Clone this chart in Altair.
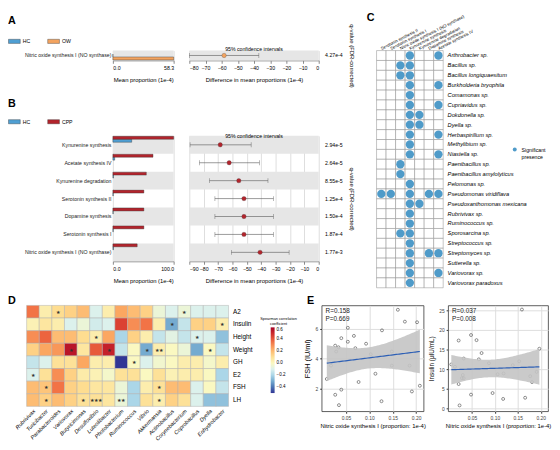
import altair as alt
import pandas as pd
import numpy as np

FONT = "Liberation Sans"
C_HC = "#4f9fd3"
C_OW = "#f3a35f"
C_CPP = "#b3242c"
C_DOT = "#4f9bc9"
BAND = "#e6e6e6"

# ---------------- Panel A data ----------------
a_pathways = ["Nitric oxide synthesis I (NO synthase)"]
a_hc = [0.0]
a_ow = [58.3]
a_diff = [-58.5]
a_low = [-80.0]
a_high = [-37.0]
a_q = ["4.27e-4"]

# ---------------- Panel B data ----------------
b_pathways = ["Kynurenine synthesis", "Acetate synthesis IV", "Kynurenine degradation",
              "Serotonin synthesis II", "Dopamine synthesis", "Serotonin synthesis I",
              "Nitric oxide synthesis I (NO synthase)"]
b_hc = [31.0, 3.0, 1.0, 0.6, 0.6, 0.6, 1.0]
b_cpp = [100.0, 66.0, 55.0, 51.0, 51.0, 51.0, 40.0]
b_diff = [-68.5, -62.3, -55.6, -52.0, -52.0, -52.0, -40.8]
b_low = [-89.5, -83.0, -76.0, -72.2, -72.2, -72.2, -60.8]
b_high = [-47.0, -41.3, -35.3, -31.5, -31.5, -31.5, -20.6]
b_q = ["2.94e-5", "2.64e-5", "8.55e-5", "1.25e-4", "1.50e-4", "1.87e-4", "1.77e-3"]

# ---------------- Panel C data ----------------
c_columns = ["Serotonin synthesis II", "Serotonin synthesis I",
             "Nitric oxide synthesis I (NO synthase)", "Kynurenine synthesis",
             "Kynurenine degradation", "Dopamine synthesis", "Acetate synthesis IV"]
c_species = ["Arthrobacter sp.", "Bacillus sp.", "Bacillus longiquaesitum",
             "Burkholderia bryophila", "Comamonas sp.", "Cupriavidus sp.", "Dokdonella sp.",
             "Dyella sp.", "Herbaspirillum sp.", "Methylibium sp.", "Niastella sp.",
             "Paenibacillus sp.", "Paenibacillus amylolyticus", "Pelomonas sp.",
             "Pseudomonas viridiflava", "Pseudoxanthomonas mexicana", "Rubrivivax sp.",
             "Ruminococcus sp.", "Sporosarcina sp.", "Streptococcus sp.", "Streptomyces sp.",
             "Sutterella sp.", "Variovorax sp.", "Variovorax paradoxus"]
# 1-based column numbers with significant presence, per species
c_presence = [[4, 7], [3, 4], [3, 4], [4, 7], [4], [4, 7], [4, 5], [4, 5], [4, 7], [4],
              [4, 7], [3], [3], [4], [1, 2, 4, 6, 7], [4, 5], [4], [4], [3, 4], [4],
              [4, 6, 7], [4], [4, 7], [4]]

# ---------------- Panel D data ----------------
d_genera = ["Rubrivivax", "Turicibacter", "Parabacteroides", "Variovorax", "Butyricimonas",
            "Desulfovibrio", "Luteolibacter", "Photobacterium", "Ruminococcus", "Vibrio",
            "Akkermansia", "Actinobacillus", "Corynebacterium", "Coprobacillus", "Dyella",
            "Enhydrobacter"]
d_traits = ["A2", "Insulin", "Height", "Weight", "GH", "E2", "FSH", "LH"]
d_rho = [
    [0.35, 0.05, 0.12, 0.15, 0.20, -0.10, 0.05, 0.25, 0.20, 0.15, -0.05, -0.10, -0.05, -0.10, -0.10, -0.10],
    [0.03, 0.08, 0.05, -0.10, -0.05, -0.12, -0.10, 0.45, 0.30, 0.35, 0.05, -0.30, -0.15, 0.15, 0.15, 0.05],
    [0.30, 0.38, 0.20, 0.20, 0.12, 0.05, 0.25, -0.20, 0.15, 0.05, -0.15, -0.08, -0.15, -0.10, -0.10, -0.25],
    [0.15, 0.25, 0.28, 0.55, 0.08, 0.40, 0.52, -0.15, 0.00, -0.30, 0.05, 0.00, -0.05, -0.30, 0.00, -0.15],
    [-0.15, -0.10, 0.10, 0.10, 0.25, 0.05, 0.05, -0.50, 0.00, -0.10, -0.03, 0.00, 0.05, 0.05, -0.02, 0.05],
    [-0.10, 0.10, 0.30, 0.15, 0.06, 0.03, -0.02, 0.10, 0.10, 0.00, 0.10, 0.03, 0.05, 0.05, 0.00, -0.20],
    [0.20, 0.18, 0.35, 0.15, 0.12, 0.08, 0.08, -0.05, -0.20, 0.05, 0.10, 0.20, 0.20, -0.10, 0.00, -0.15],
    [0.20, 0.15, 0.20, 0.15, 0.10, 0.10, 0.08, -0.05, -0.20, 0.10, 0.05, 0.15, 0.10, -0.10, -0.25, -0.25],
]
d_stars = [
    ["", "", "*", "", "", "", "", "", "", "", "", "", "*", "", "", ""],
    ["", "", "", "", "", "", "", "", "", "", "", "*", "", "", "", "*"],
    ["", "", "", "", "", "*", "", "", "", "", "", "", "", "*", "", ""],
    ["", "", "", "*", "", "", "*", "", "", "*", "**", "", "", "", "*", ""],
    ["", "", "", "", "", "", "", "", "*", "", "", "", "", "", "", ""],
    ["*", "", "", "", "", "", "", "", "", "", "", "", "", "", "", ""],
    ["", "*", "", "", "", "", "", "", "", "", "*", "", "", "", "", ""],
    ["", "*", "", "", "*", "***", "", "**", "", "", "*", "", "", "", "", ""],
]

# ---------------- Panel E data ----------------
e_fsh_x = [0.009, 0.018, 0.027, 0.027, 0.029, 0.034, 0.035, 0.040, 0.040, 0.054, 0.054,
           0.067, 0.070, 0.077, 0.093, 0.103, 0.113, 0.127, 0.126, 0.148, 0.148, 0.161,
           0.176, 0.186, 0.191, 0.202, 0.208]
e_fsh_y = [2.65, 3.54, 1.60, 4.87, 4.48, 4.76, 0.91, 5.37, 1.94, 6.06, 5.13, 5.52, 4.70,
           2.45, 5.00, 4.30, 3.00, 5.89, 1.17, 4.48, 3.54, 7.26, 6.47, 3.54, 1.82, 6.43, 2.20]
e_ins_x = [0.005, 0.013, 0.021, 0.021, 0.023, 0.030, 0.028, 0.032, 0.032, 0.048, 0.048,
           0.060, 0.065, 0.071, 0.087, 0.095, 0.106, 0.119, 0.118, 0.139, 0.153, 0.159,
           0.166, 0.177, 0.181, 0.191, 0.197]
e_ins_y = [11.2, 10.6, 17.3, 6.2, 0.75, 8.5, 7.7, 7.7, 12.7, 18.7, 3.5, 17.4, 12.5, 14.1,
           11.5, 3.9, 8.7, 8.9, 2.4, 11.0, 12.0, 25.2, 2.7, 8.2, 6.7, 9.3, 15.2]

# ---------------- helpers ----------------
W_BAR = 62
W_DIFF = 132
FS = 5.3
LEFT_GAP = 72   # empty layout slot left of panels A/B so that D lines up with the page edge


def spacer(width, height):
    return alt.Chart(pd.DataFrame({"v": [0]})).mark_point(opacity=0).encode(
        x=alt.X("v:Q", axis=None), y=alt.Y("v:Q", axis=None)).properties(
        width=width, height=height)


def bars_chart(paths, hc, other, other_name, other_color, vmax, height, pad_outer, letter,
               title_off, legend_y, field):
    rows = []
    for p, a, b in zip(paths, hc, other):
        rows.append({"path": p, field: "HC", "value": a})
        rows.append({"path": p, field: other_name, "value": b})
    df = pd.DataFrame(rows)
    band_df = pd.DataFrame({"path": paths[::2]})
    ysc = alt.Y("path:N", sort=paths, scale=alt.Scale(paddingInner=0, paddingOuter=0),
                axis=alt.Axis(title=None, ticks=False, domain=False, labelFontSize=FS,
                              labelPadding=2, labelLimit=300, labelColor="#222"))
    band = alt.Chart(band_df).mark_rect(color=BAND).encode(
        y=ysc, x=alt.value(0), x2=alt.value(W_BAR))
    bars = alt.Chart(df).mark_bar(stroke="#333", strokeWidth=0.4).encode(
        y=ysc,
        yOffset=alt.YOffset(f"{field}:N", sort=["HC", other_name],
                            scale=alt.Scale(paddingOuter=pad_outer, paddingInner=0)),
        x=alt.X("value:Q", scale=alt.Scale(domain=[0, vmax], nice=False),
                axis=alt.Axis(values=[0, vmax], format=".1f", title="Mean proportion (1e-4)",
                              labelFontSize=FS, titleFontSize=6, titleFontWeight="normal",
                              domainColor="#888", tickColor="#888", tickSize=3,
                              labelPadding=2, titlePadding=6, labelOverlap=False)),
        color=alt.Color(f"{field}:N", scale=alt.Scale(domain=["HC", other_name],
                                                      range=[C_HC, other_color]),
                        legend=alt.Legend(orient="none", legendX=-107, legendY=legend_y,
                                          direction="horizontal", title=None,
                                          symbolType="M-1,-0.35H1V0.35H-1Z", symbolSize=144,
                                          symbolStrokeColor="#333", symbolStrokeWidth=0.4,
                                          labelFontSize=FS, columnPadding=16, labelOffset=2)),
    )
    return alt.layer(band, bars).properties(
        width=W_BAR, height=height,
        title=alt.TitleParams(letter, anchor="start", frame="group", dx=-107, offset=title_off,
                              fontSize=11, fontWeight="bold"))


def diff_chart(q, diff, low, high, color, dmin, height, title_off):
    df = pd.DataFrame({"q": q, "diff": diff, "low": low, "high": high})
    band_df = df.iloc[::2]
    ysc = alt.Y("q:N", sort=q, scale=alt.Scale(paddingInner=0, paddingOuter=0),
                axis=alt.Axis(orient="right", title="q-value (FDR-corrected)", ticks=False,
                              domain=False, labelFontSize=FS, titleFontSize=6,
                              titleFontWeight="normal", labelPadding=6, titlePadding=6))
    xscale = alt.Scale(domain=[dmin, 0], nice=False)
    xaxis = alt.Axis(values=list(range(dmin, 1, 10)),
                     title="Difference in mean proportions  (1e-4)",
                     labelFontSize=FS, titleFontSize=6, titleFontWeight="normal",
                     domainColor="#888", tickColor="#888", tickSize=3,
                     labelPadding=2, titlePadding=6, labelOverlap=False)
    band = alt.Chart(band_df).mark_rect(color=BAND).encode(
        y=ysc, x=alt.value(0), x2=alt.value(W_DIFF))
    rule = alt.Chart(df).mark_rule(color="#555", strokeWidth=0.6).encode(
        y=ysc, x=alt.X("low:Q", scale=xscale, axis=xaxis), x2="high:Q")
    cap_lo = alt.Chart(df).mark_tick(color="#555", thickness=0.6, size=5).encode(
        y=ysc, x=alt.X("low:Q", scale=xscale, axis=xaxis))
    cap_hi = alt.Chart(df).mark_tick(color="#555", thickness=0.6, size=5).encode(
        y=ysc, x=alt.X("high:Q", scale=xscale, axis=xaxis))
    pt = alt.Chart(df).mark_circle(size=20, color=color, opacity=1, stroke="#444",
                                   strokeWidth=0.3).encode(
        y=ysc, x=alt.X("diff:Q", scale=xscale, axis=xaxis))
    return alt.layer(band, rule, cap_lo, cap_hi, pt).properties(
        width=W_DIFF, height=height,
        title=alt.TitleParams("95% confidence intervals", fontSize=FS, fontWeight="normal",
                              offset=title_off))


# ---------------- Panel A / B ----------------
a_bars = bars_chart(a_pathways, a_hc, a_ow, "OW", C_OW, 58.3, 10, 0.15, "A", 9, -16, "grpA")
a_dif = diff_chart(a_q, a_diff, a_low, a_high, C_OW, -80, 10, -29)
b_bars = bars_chart(b_pathways, b_hc, b_cpp, "CPP", C_CPP, 100.0, 128, 0.6, "B", 6, -21, "grpB")
b_dif = diff_chart(b_q, b_diff, b_low, b_high, C_CPP, -90, 128, -3)

a_row = alt.hconcat(spacer(LEFT_GAP, 10), a_bars, a_dif, spacing=16,
                    bounds="flush").resolve_scale(color="independent")
b_row = alt.hconcat(spacer(LEFT_GAP, 128), b_bars, b_dif, spacing=16,
                    bounds="flush").resolve_scale(color="independent")
left = alt.vconcat(a_row, b_row, spacing=11).resolve_scale(color="independent")

# ---------------- Panel C ----------------
cells = pd.DataFrame([{"sp": s, "col": c} for s in c_species for c in c_columns])
pres = pd.DataFrame([{"sp": s, "col": c_columns[k - 1], "lab": "Significant presence"}
                     for s, ks in zip(c_species, c_presence) for k in ks])
cx = alt.X("col:N", sort=c_columns,
           axis=alt.Axis(orient="top", labelAngle=-27, labelAlign="left", labelBaseline="middle",
                         ticks=False, domain=False, title=None, labelFontSize=4.4,
                         labelPadding=2, labelLimit=300))
cy = alt.Y("sp:N", sort=c_species,
           axis=alt.Axis(orient="right", ticks=False, domain=False, title=None,
                         labelFontSize=5.8, labelFontStyle="italic", labelPadding=4))
grid = alt.Chart(cells).mark_rect(fill="white", stroke="#8a8a8a", strokeWidth=0.5).encode(x=cx, y=cy)
dots = alt.Chart(pres).mark_circle(size=72, opacity=1).encode(
    x=cx, y=cy,
    color=alt.Color("lab:N", scale=alt.Scale(range=[C_DOT]),
                    legend=alt.Legend(orient="none", legendX=138, legendY=98, title=None,
                                      symbolSize=16, labelFontSize=FS,
                                      labelExpr="['Significant', 'presence']")))
c_chart = alt.layer(grid, dots).properties(
    width=68, height=242,
    title=alt.TitleParams("C", anchor="start", frame="group", dx=-10, offset=-10,
                          fontSize=11, fontWeight="bold"))

top = alt.hconcat(left, c_chart, spacing=13).resolve_scale(color="independent")

# ---------------- Panel D ----------------
d_rows = []
for i, t in enumerate(d_traits):
    for j, g in enumerate(d_genera):
        d_rows.append({"trait": t, "genus": g, "rho": d_rho[i][j],
                       "star": d_stars[i][j].replace("*", "★")})
d_df = pd.DataFrame(d_rows)
dx_ = alt.X("genus:N", sort=d_genera,
            axis=alt.Axis(labelAngle=-45, labelAlign="right", labelBaseline="top",
                          labelFontStyle="italic", ticks=False, domain=False, title=None,
                          labelFontSize=5.6, labelPadding=2))
dy_ = alt.Y("trait:N", sort=d_traits,
            axis=alt.Axis(orient="right", ticks=False, domain=False, title=None,
                          labelFontSize=6.5, labelPadding=4))
heat = alt.Chart(d_df).mark_rect(stroke="#b0b0b0", strokeWidth=0.5).encode(
    x=dx_, y=dy_,
    color=alt.Color("rho:Q",
                    scale=alt.Scale(scheme="redyellowblue", reverse=True, domain=[-0.5, 0.6],
                                    domainMid=0),
                    legend=alt.Legend(orient="none", legendX=238, legendY=12,
                                      title=["Spearman correlation", "coefficient"],
                                      titleFontSize=3.9, titleFontWeight="normal",
                                      titleAlign="center", titleAnchor="middle",
                                      titleLineHeight=4.5, titlePadding=2,
                                      gradientLength=67, gradientThickness=4,
                                      labelFontSize=4.6, values=[-0.4, -0.2, 0, 0.2, 0.4, 0.6],
                                      gradientStrokeWidth=0)))
stars = alt.Chart(d_df).mark_text(fontSize=5, color="#333", baseline="middle").encode(
    x=dx_, y=dy_, text="star:N")
d_chart = alt.layer(heat, stars).properties(
    width=206, height=103,
    title=alt.TitleParams("D", anchor="start", frame="group", dx=-19, offset=-1,
                          fontSize=11, fontWeight="bold"))


# ---------------- Panel E ----------------
def fit_band(x, y):
    x = np.asarray(x, float)
    y = np.asarray(y, float)
    n = len(x)
    b1, b0 = np.polyfit(x, y, 1)
    xs = np.linspace(x.min(), x.max(), 60)
    yh = b0 + b1 * xs
    s = np.sqrt(((y - (b0 + b1 * x)) ** 2).sum() / (n - 2))
    sxx = ((x - x.mean()) ** 2).sum()
    se = s * np.sqrt(1 / n + (xs - x.mean()) ** 2 / sxx)
    return pd.DataFrame({"x": xs, "fit": yh, "lo": yh - 2.06 * se, "hi": yh + 2.06 * se})


def scatter(x, y, ydom, yticks, ytitle, ytitle_size, label, width, letter):
    df = pd.DataFrame({"x": x, "y": y})
    fb = fit_band(x, y)
    xscale = alt.Scale(domain=[-0.002, 0.216], nice=False)
    yscale = alt.Scale(domain=ydom, nice=False)
    xaxis = alt.Axis(values=[0.05, 0.10, 0.15, 0.20], format=".2f",
                     title="Nitric oxide synthesis I (proportion: 1e-4)",
                     labelFontSize=5, titleFontSize=6, titleFontWeight="normal",
                     domain=False, tickSize=2, tickColor="#333", labelPadding=2,
                     titlePadding=3, labelColor="#444", labelOverlap=False)
    yaxis = alt.Axis(values=yticks, title=ytitle, labelFontSize=5,
                     titleFontSize=ytitle_size, titleFontWeight="normal",
                     domain=False, tickSize=2, tickColor="#333", labelPadding=2,
                     titlePadding=4, labelColor="#444", labelOverlap=False)
    band = alt.Chart(fb).mark_area(color="#c4c4c4", opacity=0.9).encode(
        x=alt.X("x:Q", scale=xscale, axis=xaxis), y=alt.Y("lo:Q", scale=yscale, axis=yaxis),
        y2="hi:Q")
    line = alt.Chart(fb).mark_line(color="#2d5fb5", strokeWidth=1.2).encode(
        x=alt.X("x:Q", scale=xscale, axis=xaxis), y=alt.Y("fit:Q", scale=yscale, axis=yaxis))
    pts = alt.Chart(df).mark_point(shape="circle", size=9, filled=False, color="#444",
                                   strokeWidth=0.6, opacity=1).encode(
        x=alt.X("x:Q", scale=xscale, axis=xaxis), y=alt.Y("y:Q", scale=yscale, axis=yaxis))
    txt = alt.Chart(pd.DataFrame({"t": [label]})).mark_text(
        align="left", baseline="top", lineBreak="\n", fontSize=6.5, color="#222",
        lineHeight=8).encode(x=alt.value(4), y=alt.value(3), text="t:N")
    ch = alt.layer(pts, band, line, txt).properties(
        width=width, height=108, view=alt.ViewBackground(stroke="#333", strokeWidth=0.8))
    if letter:
        ch = ch.properties(title=alt.TitleParams(letter, anchor="start", frame="group",
                                                 dx=-15, offset=-1, fontSize=11,
                                                 fontWeight="bold"))
    return ch


e1 = scatter(e_fsh_x, e_fsh_y, [0.5, 7.55], [2, 4, 6], "FSH (IU/ml)", 7.5,
             "R=0.158\nP=0.669", 104, "E")
e2 = scatter(e_ins_x, e_ins_y, [-0.75, 26.25], [0, 5, 10, 15, 20, 25], "Insulin (μIU/mL)", 6.5,
             "R=0.037\nP=0.008", 102, None)

e_pair = alt.hconcat(e1, e2, spacing=25, bounds="flush")
bottom = alt.hconcat(d_chart, e_pair, spacing=5).resolve_scale(color="independent")

chart = alt.vconcat(top, bottom, spacing=6).resolve_scale(color="independent").configure(
    font=FONT, padding=0, background="white"
).configure_view(stroke=None).configure_axis(
    labelFont=FONT, titleFont=FONT, labelOverlap=False).configure_legend(
    labelFont=FONT, titleFont=FONT).configure_title(font=FONT)

chart.save("out.html", embed_options={"renderer": "svg", "actions": False})
